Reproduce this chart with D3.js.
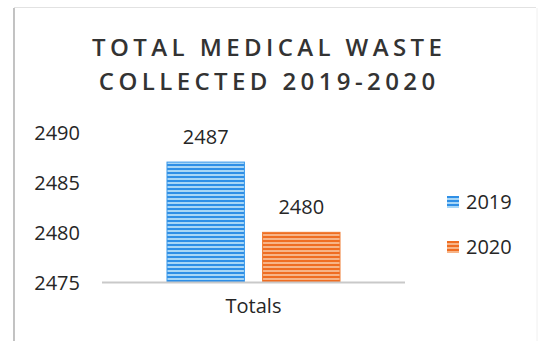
<!DOCTYPE html>
<html>
<head>
<meta charset="utf-8">
<script src="https://cdn.jsdelivr.net/npm/d3@7"></script>
<style>
  html, body { margin: 0; padding: 0; background: #fff; }
  svg { display: block; }
  text { font-family: "Open Sans", "Noto Sans", sans-serif; fill: #262626; }
</style>
</head>
<body>
<svg id="chart" width="540" height="341"></svg>
<script>
// Chart data
const categories = ["Totals"];
const seriesNames = ["2019", "2020"];
const seriesValues = [2487, 2480];
const yTicks = [2475, 2480, 2485, 2490];
const titleLines = ["TOTAL MEDICAL WASTE", "COLLECTED 2019-2020"];

const colors = {
  "2019": { dark: "#2f8fe6", light: "#a8d6f6", edge: "#3a98ea" },
  "2020": { dark: "#ef6d22", light: "#f7b487", edge: "#f07a30" }
};

const svg = d3.select("#chart");

// Striped fills for the bars
const defs = svg.append("defs");
seriesNames.forEach(s => {
  const p = defs.append("pattern")
    .attr("id", "stripe-" + s)
    .attr("patternUnits", "userSpaceOnUse")
    .attr("width", 8).attr("height", 4);
  p.append("rect").attr("width", 8).attr("height", 4).attr("fill", colors[s].light);
  p.append("rect").attr("width", 8).attr("height", 2).attr("fill", colors[s].dark);
});

// Frame edges
svg.append("line").attr("x1", 14).attr("x2", 14).attr("y1", 8).attr("y2", 341)
  .attr("stroke", "#9a9a9a").attr("stroke-width", 1.2);
svg.append("line").attr("x1", 14).attr("x2", 536).attr("y1", 7.5).attr("y2", 7.5)
  .attr("stroke", "#e2e2e2").attr("stroke-width", 1);
svg.append("line").attr("x1", 537).attr("x2", 537).attr("y1", 8).attr("y2", 341)
  .attr("stroke", "#f0f0f0").attr("stroke-width", 1);

// Title (letter-spaced; nudge right by half the trailing spacing)
const titleSpacing = 4.4;
svg.append("g").selectAll("text").data(titleLines).join("text")
  .attr("x", 267 + titleSpacing / 2)
  .attr("y", (d, i) => 56 + i * 34)
  .attr("text-anchor", "middle")
  .attr("font-size", 24)
  .attr("font-weight", 600)
  .attr("letter-spacing", titleSpacing)
  .style("fill", "#333333")
  .text(d => d);

// Scales
const y = d3.scaleLinear().domain([2475, 2490]).range([282.5, 132]);
const x0 = d3.scaleBand().domain(categories).range([102, 405]).paddingOuter(0.3757).paddingInner(0);
const x1 = d3.scaleBand().domain(seriesNames).range([0, x0.bandwidth()]).paddingInner(0.19);

// Y tick labels
const yAxis = d3.axisLeft(y).tickValues(yTicks).tickSize(0).tickPadding(0).tickFormat(d3.format("d"));
const yg = svg.append("g").attr("transform", "translate(80,0)").call(yAxis);
yg.select(".domain").remove();
yg.selectAll("text").attr("font-size", 20).attr("dy", "0.35em")
  .style("font-family", '"Open Sans", sans-serif').style("fill", "#262626");

// Bars
const groups = svg.append("g").selectAll("g").data(categories).join("g")
  .attr("transform", d => `translate(${x0(d)},0)`);

const barData = seriesNames.map((s, i) => ({ s, v: seriesValues[i] }));
groups.selectAll("rect").data(barData).join("rect")
  .attr("x", d => x1(d.s))
  .attr("y", d => y(d.v))
  .attr("width", x1.bandwidth())
  .attr("height", d => y(2475) - y(d.v))
  .attr("fill", d => `url(#stripe-${d.s})`)
  .attr("stroke", d => colors[d.s].edge)
  .attr("stroke-width", 1);

// Value labels
groups.selectAll("text.val").data(barData).join("text")
  .attr("class", "val")
  .attr("x", d => x1(d.s) + x1.bandwidth() / 2)
  .attr("y", d => y(d.v) - 18)
  .attr("text-anchor", "middle")
  .attr("font-size", 20)
  .text(d => d.v);

// X axis baseline and category label
const xAxis = d3.axisBottom(x0).tickSize(0).tickPadding(16);
const xg = svg.append("g").attr("transform", `translate(0,${y(2475)})`).call(xAxis);
xg.select(".domain").attr("stroke", "#c9c9c9").attr("stroke-width", 2.2).attr("d", "M102,0H405");
xg.selectAll("text").attr("font-size", 20).attr("dy", "0.71em")
  .style("font-family", '"Open Sans", sans-serif').style("fill", "#262626");

// Legend
const legend = svg.append("g").selectAll("g").data(seriesNames).join("g")
  .attr("transform", (d, i) => `translate(447,${196 + i * 45})`);
legend.append("rect").attr("width", 12).attr("height", 12)
  .attr("fill", d => `url(#stripe-${d})`);
legend.append("text").attr("x", 19).attr("y", 6).attr("dy", "0.35em")
  .attr("font-size", 20).text(d => d);
</script>
</body>
</html>
